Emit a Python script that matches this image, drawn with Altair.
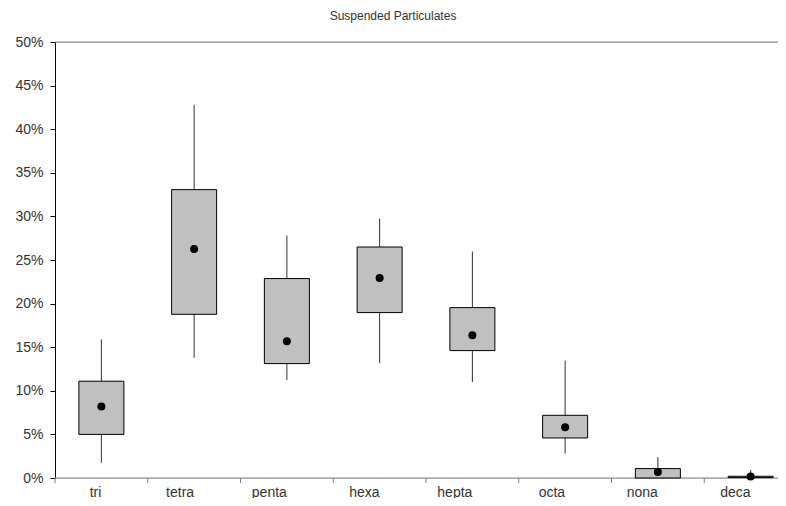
import altair as alt
import pandas as pd

categories = ["tri", "tetra", "penta", "hexa", "hepta", "octa", "nona", "deca"]
whisker_low = [0.0175, 0.138, 0.1124, 0.1319, 0.110, 0.028, 0.0, 0.0]
box_low = [0.050, 0.1877, 0.1312, 0.1897, 0.1461, 0.0459, 0.0, 0.0005]
middle = [0.082, 0.2626, 0.1568, 0.2294, 0.1636, 0.0581, 0.0069, 0.0016]
box_high = [0.111, 0.3307, 0.2287, 0.2649, 0.1954, 0.0719, 0.0108, 0.0020]
whisker_high = [0.159, 0.428, 0.278, 0.2975, 0.2597, 0.1346, 0.0241, 0.0092]
y_ticks = [0, 0.05, 0.10, 0.15, 0.20, 0.25, 0.30, 0.35, 0.40, 0.45, 0.50]

df = pd.DataFrame({
    "cat": categories,
    "wlo": whisker_low,
    "q1": box_low,
    "mid": middle,
    "q3": box_high,
    "whi": whisker_high,
})

FONT = "Liberation Sans"
TXT = "#333333"
H = 436
W = 723

x_enc = alt.X(
    "cat:N",
    sort=categories,
    scale=alt.Scale(range=[0, 742], paddingInner=0, paddingOuter=0),
    axis=alt.Axis(
        title=None,
        labelAngle=0,
        domain=False,
        ticks=False,
        labelFont=FONT,
        labelFontSize=14,
        labelColor=TXT,
        labelBaseline="alphabetic",
        labelPadding=18,
    ),
)

y_scale = alt.Scale(domain=[0, 0.5], nice=False, zero=True)
y_axis = alt.Axis(
    title=None,
    values=y_ticks,
    format=".0%",
    grid=False,
    tickSize=5,
    tickColor="#000000",
    domainColor="#000000",
    labelFont=FONT,
    labelFontSize=14,
    labelColor=TXT,
    labelPadding=7,
)

base = alt.Chart(df)

whisker = base.mark_rule(color="#333333", strokeWidth=1).encode(
    x=x_enc,
    y=alt.Y("wlo:Q", scale=y_scale, axis=y_axis),
    y2="whi:Q",
)

box = base.mark_bar(size=45, color="#C0C0C0", stroke="#000000", strokeWidth=1).encode(
    x=alt.X("cat:N", sort=categories),
    y=alt.Y("q1:Q"),
    y2="q3:Q",
)

dot = base.mark_circle(size=64, color="#000000", opacity=1).encode(
    x=alt.X("cat:N", sort=categories),
    y=alt.Y("mid:Q"),
)

edges = alt.Chart(pd.DataFrame({"v": [0.0, 0.5]}))
top_bottom = edges.mark_rule(color="#808080", strokeWidth=1).encode(
    y=alt.Y("v:Q"),
)

cat_ticks = base.mark_rule(color="#808080", strokeWidth=1).encode(
    x=alt.X("cat:N", sort=categories, bandPosition=0),
    y=alt.value(H),
    y2=alt.value(H + 5),
)

chart = (
    alt.layer(top_bottom, cat_ticks, whisker, box, dot)
    .properties(
        width=W,
        height=H,
        autosize=alt.AutoSizeParams(type="none"),
        padding={"left": 47, "top": 34, "right": 0, "bottom": 20},
        title=alt.TitleParams(
            "Suspended Particulates",
            font=FONT,
            fontSize=12,
            fontWeight="normal",
            color=TXT,
            anchor="middle",
            frame="group",
            dx=-(55 + W / 2 - 393),
            offset=12,
        ),
    )
    .configure_view(stroke=None)
    .configure(background="white")
)

chart.save("out.html", embed_options={"renderer": "svg", "actions": False})
